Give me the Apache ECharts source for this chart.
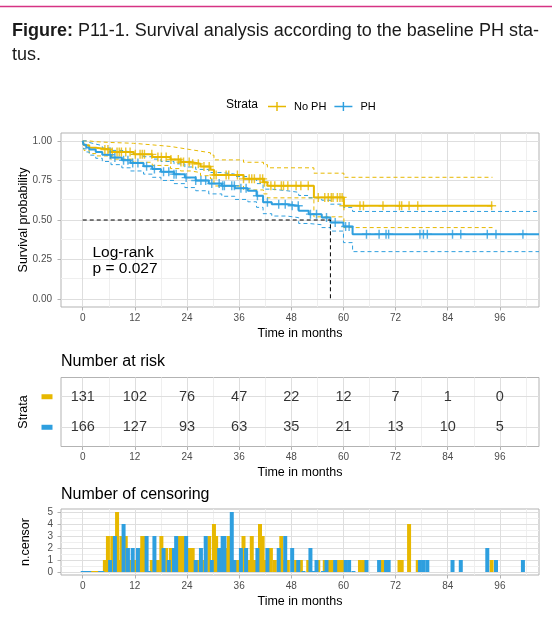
<!DOCTYPE html>
<html>
<head>
<meta charset="utf-8">
<script src="https://cdn.jsdelivr.net/npm/echarts@6.0.0/dist/echarts.min.js"></script>
<style>
html, body { margin: 0; padding: 0; background: #fff; }
#chart { width: 552px; height: 626px; }
</style>
</head>
<body>
<div id="chart"></div>
<script>
// ---- data ----
const timeTicks = [0, 12, 24, 36, 48, 60, 72, 84, 96];
const minorTimeTicks = [6, 18, 30, 42, 54, 66, 78, 90, 102];
const survTicks = [0, 0.25, 0.5, 0.75, 1];
const survMinor = [0.125, 0.375, 0.625, 0.875];
const censorTicks = [0, 1, 2, 3, 4, 5];
const censorMinor = [0.5, 1.5, 2.5, 3.5, 4.5];

const riskNoPH = [131, 102, 76, 47, 22, 12, 7, 1, 0];
const riskPH = [166, 127, 93, 63, 35, 21, 13, 10, 5];

// Kaplan-Meier steps [time, survival]
const kmNoPH = [[0, 1], [0.3, 0.972], [1.5, 0.957], [3, 0.946], [6.4, 0.93], [11.7, 0.915], [16, 0.898],
  [20.2, 0.883], [22.5, 0.866], [24.8, 0.855], [27.1, 0.838], [29.4, 0.817], [30.2, 0.785], [37, 0.76],
  [41.6, 0.739], [42.5, 0.717], [53.2, 0.643], [60.1, 0.59], [94.3, 0.59]];
const upperNoPH = [[0, 1], [0.3, 1], [1.5, 0.995], [3, 0.99], [6.4, 0.985], [11.7, 0.975], [16, 0.965],
  [20.2, 0.955], [22.5, 0.945], [24.8, 0.935], [27.1, 0.925], [29.4, 0.91], [30.2, 0.88], [37, 0.865],
  [41.6, 0.85], [42.5, 0.83], [53.2, 0.796], [60.1, 0.77], [94.3, 0.77]];
const lowerNoPH = [[0, 1], [0.3, 0.94], [1.5, 0.92], [3, 0.905], [6.4, 0.885], [11.7, 0.865], [16, 0.845],
  [20.2, 0.825], [22.5, 0.81], [24.8, 0.8], [27.1, 0.78], [29.4, 0.76], [30.2, 0.715], [37, 0.69],
  [41.6, 0.665], [42.5, 0.64], [53.2, 0.52], [60.1, 0.452], [94.3, 0.452]];

const kmPH = [[0, 1], [0.2, 0.975], [0.8, 0.958], [1.5, 0.945], [3, 0.93], [4.5, 0.912], [6.5, 0.895],
  [9, 0.878], [11, 0.86], [14, 0.84], [16, 0.822], [18, 0.805], [21, 0.79], [23.5, 0.768], [26, 0.75],
  [29, 0.73], [32, 0.717], [35, 0.7], [38, 0.685], [40, 0.653], [41.5, 0.613], [43.5, 0.6], [47, 0.59],
  [49.7, 0.558], [52, 0.537], [55, 0.516], [57, 0.484], [60, 0.459], [62.1, 0.41], [105, 0.41]];
const upperPH = [[0, 1], [0.2, 1], [0.8, 0.99], [1.5, 0.98], [3, 0.97], [4.5, 0.955], [6.5, 0.94],
  [9, 0.93], [11, 0.915], [14, 0.9], [16, 0.885], [18, 0.87], [21, 0.855], [23.5, 0.835], [26, 0.82],
  [29, 0.8], [32, 0.79], [35, 0.775], [38, 0.76], [40, 0.73], [41.5, 0.695], [43.5, 0.685], [47, 0.675],
  [49.7, 0.655], [52, 0.64], [55, 0.625], [57, 0.6], [60, 0.58], [62.1, 0.554], [105, 0.554]];
const lowerPH = [[0, 1], [0.2, 0.95], [0.8, 0.93], [1.5, 0.91], [3, 0.89], [4.5, 0.87], [6.5, 0.85],
  [9, 0.83], [11, 0.81], [14, 0.79], [16, 0.77], [18, 0.75], [21, 0.73], [23.5, 0.705], [26, 0.685],
  [29, 0.665], [32, 0.65], [35, 0.63], [38, 0.615], [40, 0.58], [41.5, 0.54], [43.5, 0.525], [47, 0.515],
  [49.7, 0.478], [52, 0.47], [55, 0.452], [57, 0.43], [60, 0.357], [62.1, 0.3], [105, 0.3]];

// number of censored subjects [time, n.censor]
const censorNoPH = [[2, 0], [2.5, 0], [3, 0], [3.5, 0], [5.1, 1], [5.8, 3], [6.8, 3], [7.9, 5], [8.4, 1],
  [8.9, 3], [9.9, 3], [10.9, 1], [12.1, 1], [13.2, 2], [13.7, 3], [14.2, 3], [15.9, 1], [17.3, 1], [18.1, 3],
  [19.2, 2], [20.3, 2], [22.0, 3], [22.6, 3], [23.2, 3], [24.5, 2], [25.3, 2], [26.6, 1], [27.9, 1],
  [29.1, 3], [30.2, 4], [30.7, 3], [33.0, 2], [33.6, 3], [35.6, 1], [37.0, 3], [38.3, 1], [38.9, 3],
  [39.5, 1], [40.8, 4], [41.4, 3], [41.8, 1], [43.3, 2], [44.2, 1], [45.7, 3], [46.2, 1], [47.2, 1],
  [49.1, 1], [50.2, 1], [51.9, 1], [54.2, 1], [55.7, 1], [56.5, 1], [57.2, 1], [57.6, 1], [58.6, 1],
  [59.2, 1], [59.7, 1], [60.1, 1], [63.8, 1], [64.6, 1], [69.1, 1], [72.9, 1], [73.4, 1], [75.1, 4],
  [77.1, 1], [94.1, 1]];
const censorPH = [[0, 0], [0.5, 0], [1, 0], [1.5, 0], [4, 0], [4.5, 0], [6.3, 1], [7.4, 3], [9.4, 4],
  [10.4, 2], [11.5, 2], [12.7, 2], [14.7, 3], [15.3, 0], [16.5, 3], [18.6, 2], [19.8, 1], [21.0, 2],
  [21.5, 3], [23.8, 3], [26.0, 1], [27.2, 2], [28.3, 3], [29.7, 1], [31.4, 2], [32.2, 3], [32.6, 3],
  [34.3, 5], [34.9, 1], [36.4, 2], [37.6, 2], [40.2, 2], [42.5, 2], [45.1, 2], [46.6, 3], [48.2, 2],
  [49.6, 1], [50.8, 0], [52.4, 2], [53.1, 0], [53.8, 1], [55.3, 0], [56.1, 1], [58.1, 1], [60.5, 1],
  [61.3, 1], [62.3, 0], [65.3, 1], [68.2, 1], [69.8, 1], [70.4, 1], [77.6, 1], [78.4, 1], [79.3, 1],
  [85.1, 1], [87.0, 1], [93.1, 2], [95.1, 1], [101.3, 1]];

const medianPH = 57;
const logRankP = '0.027';

// ---- styling ----
const YELLOW = '#E7B800';
const BLUE = '#2E9FDF';
const BORDER = '#b3b3b3';
const GRID_MAJOR = '#dedede';
const GRID_MINOR = '#efefef';
const TICK_TEXT = '#4d4d4d';
const FONT = 'Liberation Sans';
const PLUS = 'path://M0,4.2h10v1.6h-10z M4.2,0h1.6v10h-1.6z';
const LEGEND_ICON = 'path://M0,4.2h20v1.6h-20z M9.2,0h1.6v10h-1.6z';

function survAt(km, t) {
  let s = km[0][1];
  for (const p of km) {
    if (p[0] <= t) s = p[1];
    else break;
  }
  return s;
}

function censorMarks(km, censor) {
  const last = km[km.length - 1][0];
  return censor.filter(c => c[1] > 0 && c[0] <= last).map(c => [c[0], survAt(km, c[0])]);
}

// panel grid lines (major + minor), kept under the data
function gridLines(idx, yMajor, yMinor) {
  const minor = { color: GRID_MINOR, width: 1, type: 'solid' };
  const major = { color: GRID_MAJOR, width: 1, type: 'solid' };
  const data = [];
  minorTimeTicks.forEach(v => data.push({ xAxis: v, lineStyle: minor }));
  yMinor.forEach(v => data.push({ yAxis: v, lineStyle: minor }));
  timeTicks.forEach(v => data.push({ xAxis: v, lineStyle: major }));
  yMajor.forEach(v => data.push({ yAxis: v, lineStyle: major }));
  return {
    type: 'line', xAxisIndex: idx, yAxisIndex: idx, data: [], z: 0, silent: true,
    markLine: {
      z: 0, silent: true, symbol: ['none', 'none'], label: { show: false }, animation: false,
      lineStyle: { type: 'solid' }, data: data
    }
  };
}

function timeAxis(idx) {
  return {
    type: 'value', gridIndex: idx, min: -5, max: 105,
    axisLine: { show: false, onZero: false },
    axisTick: { show: true, length: 3.5, customValues: timeTicks, lineStyle: { color: BORDER } },
    axisLabel: { customValues: timeTicks, color: TICK_TEXT, fontSize: 10, margin: 6 },
    splitLine: { show: false },
    name: 'Time in months', nameLocation: 'middle', nameGap: 20, nameMoveOverlap: false,
    nameTextStyle: { color: '#000', fontSize: 12.5 }
  };
}

function stepLine(name, data, color, width, dashed, z) {
  return {
    type: 'line', name: name, xAxisIndex: 0, yAxisIndex: 0, data: data, step: 'end',
    showSymbol: false, symbol: 'none', color: color, z: z,
    lineStyle: { color: color, width: width, type: dashed ? [4, 3] : 'solid' }
  };
}

const chart = echarts.init(document.getElementById('chart'));

const option = {
  animation: false,
  textStyle: { fontFamily: FONT },
  title: [
    {
      text: '{b|Figure:} P11-1. Survival analysis according to the baseline PH sta-\ntus.',
      left: 12, top: 19, padding: 0,
      textStyle: {
        fontSize: 18, fontWeight: 'normal', color: '#1a1a1a', lineHeight: 24, fontFamily: FONT,
        rich: { b: { fontSize: 18, fontWeight: 'bold', color: '#1a1a1a', lineHeight: 24, fontFamily: FONT } }
      }
    },
    { text: 'Number at risk', left: 61, top: 354, padding: 0,
      textStyle: { fontSize: 16, fontWeight: 'normal', color: '#000', fontFamily: FONT } },
    { text: 'Number of censoring', left: 61, top: 487, padding: 0,
      textStyle: { fontSize: 16, fontWeight: 'normal', color: '#000', fontFamily: FONT } }
  ],
  legend: {
    left: 268, top: 101, padding: 0, itemWidth: 18, itemHeight: 9, itemGap: 8, selectedMode: false,
    textStyle: { fontSize: 11, color: '#000', padding: [0, 0, 0, 3] },
    data: [{ name: 'No PH', icon: LEGEND_ICON }, { name: 'PH', icon: LEGEND_ICON }]
  },
  graphic: [
    { type: 'line', shape: { x1: 0, y1: 6.5, x2: 552, y2: 6.5 }, style: { stroke: '#d63384', lineWidth: 1.5 } },
    { type: 'text', left: 226, top: 99, style: { text: 'Strata', fontSize: 12, fontFamily: FONT, fill: '#000' } },
    { type: 'text', left: 92.5, top: 245, z: 100,
      style: { text: 'Log-rank\np = ' + logRankP, fontSize: 15.5, lineHeight: 15.5, fontFamily: FONT, fill: '#000' } }
  ],
  grid: [
    { left: 61, top: 133, width: 478, height: 174, show: true, borderColor: BORDER, borderWidth: 1 },
    { left: 61, top: 377.5, width: 478, height: 69, show: true, borderColor: BORDER, borderWidth: 1 },
    { left: 61, top: 509, width: 478, height: 66, show: true, borderColor: BORDER, borderWidth: 1 }
  ],
  xAxis: [timeAxis(0), timeAxis(1), timeAxis(2)],
  yAxis: [
    {
      type: 'value', gridIndex: 0, min: -0.05, max: 1.05,
      axisLine: { show: false, onZero: false },
      axisTick: { show: true, length: 3.5, customValues: survTicks, lineStyle: { color: BORDER } },
      axisLabel: { customValues: survTicks, color: TICK_TEXT, fontSize: 10, margin: 9,
        formatter: v => v.toFixed(2) },
      splitLine: { show: false },
      name: 'Survival probability', nameLocation: 'middle', nameGap: 31, nameMoveOverlap: false,
      nameTextStyle: { color: '#000', fontSize: 12.5 }
    },
    {
      type: 'value', gridIndex: 1, min: 0.37, max: 2.63,
      axisLine: { show: false, onZero: false },
      axisTick: { show: false, customValues: [1, 2] },
      axisLabel: {
        customValues: [1, 2], margin: 8.5,
        formatter: v => (v === 2 ? '{a|}' : '{b|}'),
        rich: {
          a: { backgroundColor: YELLOW, width: 11, height: 5 },
          b: { backgroundColor: BLUE, width: 11, height: 5 }
        }
      },
      splitLine: { show: false },
      name: 'Strata', nameLocation: 'middle', nameGap: 31, nameMoveOverlap: false,
      nameTextStyle: { color: '#000', fontSize: 12.5 }
    },
    {
      type: 'value', gridIndex: 2, min: -0.25, max: 5.25,
      axisLine: { show: false, onZero: false },
      axisTick: { show: true, length: 3.5, customValues: censorTicks, lineStyle: { color: BORDER } },
      axisLabel: { customValues: censorTicks, color: TICK_TEXT, fontSize: 10, margin: 8 },
      splitLine: { show: false },
      name: 'n.censor', nameLocation: 'middle', nameGap: 29, nameMoveOverlap: false,
      nameTextStyle: { color: '#000', fontSize: 12.5 }
    }
  ],
  series: [
    gridLines(0, survTicks, survMinor),
    gridLines(1, [1, 2], []),
    gridLines(2, censorTicks, censorMinor),

    stepLine('No PH upper', upperNoPH, YELLOW, 1, true, 2),
    stepLine('No PH lower', lowerNoPH, YELLOW, 1, true, 2),
    stepLine('PH upper', upperPH, BLUE, 1, true, 2),
    stepLine('PH lower', lowerPH, BLUE, 1, true, 2),
    stepLine('No PH', kmNoPH, YELLOW, 2, false, 3),
    stepLine('PH', kmPH, BLUE, 2, false, 3),
    {
      type: 'scatter', name: 'No PH', xAxisIndex: 0, yAxisIndex: 0, z: 4,
      symbol: PLUS, symbolSize: 9, color: YELLOW, data: censorMarks(kmNoPH, censorNoPH)
    },
    {
      type: 'scatter', name: 'PH', xAxisIndex: 0, yAxisIndex: 0, z: 4,
      symbol: PLUS, symbolSize: 9, color: BLUE, data: censorMarks(kmPH, censorPH)
    },
    {
      type: 'line', name: 'median', xAxisIndex: 0, yAxisIndex: 0, z: 5, showSymbol: false, symbol: 'none',
      data: [[0, 0.5], [medianPH, 0.5], [medianPH, 0]],
      lineStyle: { color: '#000', width: 1, type: [4, 3] }
    },

    {
      type: 'scatter', name: 'risk', xAxisIndex: 1, yAxisIndex: 1, symbolSize: 0.1, z: 5,
      itemStyle: { color: 'rgba(0,0,0,0)' },
      label: { show: true, position: 'inside', formatter: p => p.value[2], color: '#000', fontSize: 14.5 },
      data: timeTicks.map((t, i) => [t, 2, riskNoPH[i]]).concat(timeTicks.map((t, i) => [t, 1, riskPH[i]]))
    },

    {
      type: 'bar', name: 'No PH censor', xAxisIndex: 2, yAxisIndex: 2, barWidth: 4, barMinHeight: 1, z: 3,
      itemStyle: { color: YELLOW }, data: censorNoPH
    },
    {
      type: 'bar', name: 'PH censor', xAxisIndex: 2, yAxisIndex: 2, barWidth: 4, barMinHeight: 1, z: 3,
      barGap: '-100%', itemStyle: { color: BLUE }, data: censorPH
    }
  ]
};

chart.setOption(option);
</script>
</body>
</html>
